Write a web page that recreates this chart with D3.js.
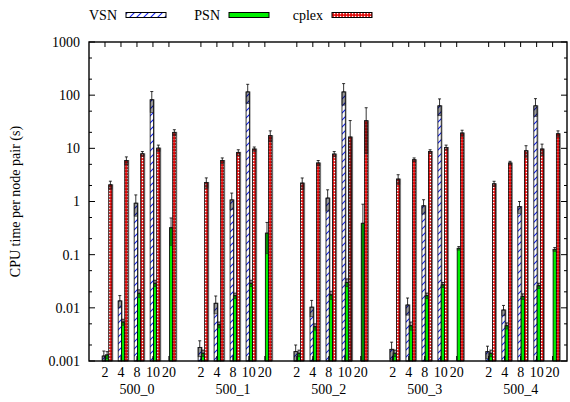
<!DOCTYPE html>
<html>
<head>
<meta charset="utf-8">
<script src="https://cdn.jsdelivr.net/npm/d3@7"></script>
<style>
  body { margin: 0; background: #fff; }
  text { font-family: "Liberation Serif", "DejaVu Serif", serif; font-size: 14px; fill: #000; }
</style>
</head>
<body>
<script>
/* ---------- données ---------- */
var groups = ["500_0", "500_1", "500_2", "500_3", "500_4"];
var subs = ["2", "4", "8", "10", "20"];
var series = ["VSN", "PSN", "cplex"];

// valeurs moyennes (null = pas de barre)
var vsn = [
  [0.00124, 0.0135, 0.93, 82, null],
  [0.0018, 0.0122, 1.07, 115, null],
  [0.0015, 0.0103, 1.16, 115, null],
  [0.00166, 0.0113, 0.83, 63, null],
  [0.0015, 0.0091, 0.8, 63, null]
];
var vsnErr = [
  [0.0003, 0.0035, 0.4, 35, null],
  [0.0006, 0.0045, 0.37, 45, null],
  [0.0005, 0.0035, 0.5, 50, null],
  [0.0006, 0.004, 0.25, 22, null],
  [0.0004, 0.002, 0.2, 23, null]
];
var psn = [
  [0.0013, 0.0054, 0.0188, 0.029, 0.32],
  [0.0014, 0.0048, 0.0169, 0.029, 0.254],
  [0.0014, 0.0044, 0.0175, 0.030, 0.39],
  [0.0014, 0.0046, 0.0169, 0.027, 0.132],
  [0.0014, 0.0046, 0.0163, 0.026, 0.126]
];
var psnErr = [
  [0.0002, 0.0007, 0.003, 0.004, 0.17],
  [0.0002, 0.0006, 0.002, 0.004, 0.15],
  [0.0002, 0.0006, 0.003, 0.005, 0.5],
  [0.0002, 0.0008, 0.002, 0.003, 0.01],
  [0.0002, 0.0006, 0.002, 0.003, 0.01]
];
var cplex = [
  [2.06, 5.9, 7.9, 10.1, 20],
  [2.28, 5.9, 8.4, 9.7, 17.3],
  [2.22, 5.3, 7.8, 16.3, 33],
  [2.64, 6.1, 8.7, 10.4, 19.4],
  [2.15, 5.3, 9.0, 9.7, 18.8]
];
var cplexErr = [
  [0.35, 1.0, 0.8, 1.4, 2.4],
  [0.5, 0.7, 1.0, 0.9, 4],
  [0.55, 0.6, 0.9, 17, 25],
  [0.55, 0.5, 0.7, 1.1, 2.5],
  [0.25, 0.4, 2.2, 2.3, 2.5]
];
var yTicks = [0.001, 0.01, 0.1, 1, 10, 100, 1000];
var yTickLabels = ["0.001", "0.01", "0.1", "1", "10", "100", "1000"];

/* ---------- mise en page ---------- */
var width = 570, height = 402;
var mLeft = 89, mRight = 567, mTop = 42, mBottom = 361;

var svg = d3.select("body").append("svg")
  .attr("width", width)
  .attr("height", height);

var defs = svg.append("defs");

// hachures bleues pour VSN
var pHatch = defs.append("pattern")
  .attr("id", "hatch").attr("patternUnits", "userSpaceOnUse")
  .attr("width", 7).attr("height", 7);
pHatch.append("rect").attr("width", 7).attr("height", 7).attr("fill", "#fff");
pHatch.append("path").attr("d", "M-1,8 L8,-1 M-1,1 L1,-1 M6,8 L8,6")
  .attr("stroke", "#1122ee").attr("stroke-width", 1.1);

// damier rouge pour cplex
var pCheck = defs.append("pattern")
  .attr("id", "check").attr("patternUnits", "userSpaceOnUse")
  .attr("width", 3).attr("height", 3);
pCheck.append("rect").attr("width", 3).attr("height", 3).attr("fill", "#e00000");
pCheck.append("rect").attr("x", 0.8).attr("y", 0.8).attr("width", 1.5).attr("height", 1.5).attr("fill", "#fff");

var fills = { VSN: "url(#hatch)", PSN: "#00ee00", cplex: "url(#check)" };

// échelles
var xscale = d3.scaleLinear().domain([-1, 28.9]).range([mLeft, mRight]);
var yscale = d3.scaleLog().domain([0.001, 1000]).range([mBottom, mTop]);
var slotPx = xscale(1) - xscale(0);

function slotIndex(g, k) { return g * 6 + k; }

// offsets des barres à l'intérieur d'un groupe (en fraction de créneau)
var barOffset = { VSN: -0.175, PSN: 0.03, cplex: 0.235 };
var barW = 0.206;

/* ---------- construction des barres ---------- */
var bars = [];
var vals = { VSN: vsn, PSN: psn, cplex: cplex };
var errs = { VSN: vsnErr, PSN: psnErr, cplex: cplexErr };
groups.forEach(function (gname, g) {
  subs.forEach(function (s, k) {
    series.forEach(function (name) {
      var v = vals[name][g][k];
      if (v == null) return;
      bars.push({ name: name, slot: slotIndex(g, k), v: v, e: errs[name][g][k] });
    });
  });
});

var gBars = svg.append("g");

// ombre grise
gBars.selectAll("rect.shadow")
  .data(bars).enter().append("rect")
  .attr("class", "shadow")
  .attr("x", function (d) { return xscale(d.slot + barOffset[d.name]) + 1.3; })
  .attr("y", function (d) { return yscale(d.v) - 0.5; })
  .attr("width", barW * slotPx)
  .attr("height", function (d) { return mBottom - yscale(d.v) + 0.5; })
  .attr("fill", "#9a9a9a");

gBars.selectAll("rect.bar")
  .data(bars).enter().append("rect")
  .attr("class", "bar")
  .attr("x", function (d) { return xscale(d.slot + barOffset[d.name]); })
  .attr("y", function (d) { return yscale(d.v); })
  .attr("width", barW * slotPx)
  .attr("height", function (d) { return mBottom - yscale(d.v); })
  .attr("fill", function (d) { return fills[d.name]; })
  .attr("stroke", "#000")
  .attr("stroke-width", 0.8);

// boîte d'erreur (v - e à v)
gBars.selectAll("rect.errbox")
  .data(bars).enter().append("rect")
  .attr("class", "errbox")
  .attr("x", function (d) { return xscale(d.slot + barOffset[d.name]); })
  .attr("y", function (d) { return yscale(d.v); })
  .attr("width", barW * slotPx)
  .attr("height", function (d) {
    var lo = d.v - d.e > 0.001 ? yscale(d.v - d.e) : mBottom;
    return Math.max(lo - yscale(d.v), 1.5);
  })
  .attr("fill", "#000")
  .attr("fill-opacity", 0.4)
  .attr("stroke", "#222")
  .attr("stroke-width", 0.6);

// moustache (v à v + e)
var cx = function (d) { return xscale(d.slot + barOffset[d.name] + barW / 2); };
gBars.selectAll("line.whisk")
  .data(bars).enter().append("line")
  .attr("x1", cx).attr("x2", cx)
  .attr("y1", function (d) { return yscale(d.v); })
  .attr("y2", function (d) { return yscale(d.v + d.e); })
  .attr("stroke", "#000").attr("stroke-width", 0.8);
gBars.selectAll("line.cap")
  .data(bars).enter().append("line")
  .attr("x1", function (d) { return cx(d) - 1.5; })
  .attr("x2", function (d) { return cx(d) + 1.5; })
  .attr("y1", function (d) { return yscale(d.v + d.e); })
  .attr("y2", function (d) { return yscale(d.v + d.e); })
  .attr("stroke", "#000").attr("stroke-width", 0.8);

/* ---------- axes ---------- */
var minorTicks = [];
yTicks.forEach(function (t) {
  if (t < 1000) { minorTicks.push(t * 2); minorTicks.push(t * 5); }
});

var axes = svg.append("g");
// ticks y majeurs gauche/droite
axes.selectAll("line.ymaj").data(yTicks).enter().append("line")
  .attr("x1", mLeft).attr("x2", mLeft + 6)
  .attr("y1", function (d) { return yscale(d); }).attr("y2", function (d) { return yscale(d); })
  .attr("stroke", "#000");
axes.selectAll("line.ymajr").data(yTicks).enter().append("line")
  .attr("x1", mRight).attr("x2", mRight - 6)
  .attr("y1", function (d) { return yscale(d); }).attr("y2", function (d) { return yscale(d); })
  .attr("stroke", "#000");
axes.selectAll("line.ymin").data(minorTicks).enter().append("line")
  .attr("x1", mLeft).attr("x2", mLeft + 3)
  .attr("y1", function (d) { return yscale(d); }).attr("y2", function (d) { return yscale(d); })
  .attr("stroke", "#000");
axes.selectAll("line.yminr").data(minorTicks).enter().append("line")
  .attr("x1", mRight).attr("x2", mRight - 3)
  .attr("y1", function (d) { return yscale(d); }).attr("y2", function (d) { return yscale(d); })
  .attr("stroke", "#000");
axes.selectAll("text.ylab").data(yTicks).enter().append("text")
  .attr("x", mLeft - 9)
  .attr("y", function (d) { return yscale(d); })
  .attr("dy", "0.35em")
  .attr("text-anchor", "end")
  .text(function (d, i) { return yTickLabels[i]; });

// ticks x (haut et bas)
var xTicks = [];
groups.forEach(function (gname, g) {
  subs.forEach(function (s, k) { xTicks.push({ slot: slotIndex(g, k), label: s }); });
});
axes.selectAll("line.xtop").data(xTicks).enter().append("line")
  .attr("x1", function (d) { return xscale(d.slot); }).attr("x2", function (d) { return xscale(d.slot); })
  .attr("y1", mTop).attr("y2", mTop + 5)
  .attr("stroke", "#000");
axes.selectAll("line.xbot").data(xTicks).enter().append("line")
  .attr("x1", function (d) { return xscale(d.slot); }).attr("x2", function (d) { return xscale(d.slot); })
  .attr("y1", mBottom).attr("y2", mBottom - 5)
  .attr("stroke", "#000");
axes.selectAll("text.xlab").data(xTicks).enter().append("text")
  .attr("x", function (d) { return xscale(d.slot); })
  .attr("y", mBottom + 16)
  .attr("text-anchor", "middle")
  .text(function (d) { return d.label; });
axes.selectAll("text.glab").data(groups).enter().append("text")
  .attr("x", function (d, g) { return xscale(slotIndex(g, 2)); })
  .attr("y", mBottom + 33)
  .attr("text-anchor", "middle")
  .text(function (d) { return d; });

// cadre
svg.append("rect")
  .attr("x", mLeft).attr("y", mTop)
  .attr("width", mRight - mLeft).attr("height", mBottom - mTop)
  .attr("fill", "none").attr("stroke", "#000").attr("stroke-width", 1.4);

// titre de l'axe y
svg.append("text")
  .attr("transform", "translate(20," + ((mTop + mBottom) / 2) + ") rotate(-90)")
  .attr("text-anchor", "middle")
  .text("CPU time per node pair (s)");

/* ---------- légende ---------- */
var legend = svg.append("g");
series.forEach(function (name, i) {
  var x0 = 117 + i * 103;
  legend.append("text")
    .attr("x", x0).attr("y", 15).attr("dy", "0.35em")
    .attr("text-anchor", "end")
    .text(name);
  legend.append("rect")
    .attr("x", x0 + 9).attr("y", 12.5)
    .attr("width", 40).attr("height", 5)
    .attr("fill", fills[name])
    .attr("stroke", "#000").attr("stroke-width", 1);
});
</script>
</body>
</html>
